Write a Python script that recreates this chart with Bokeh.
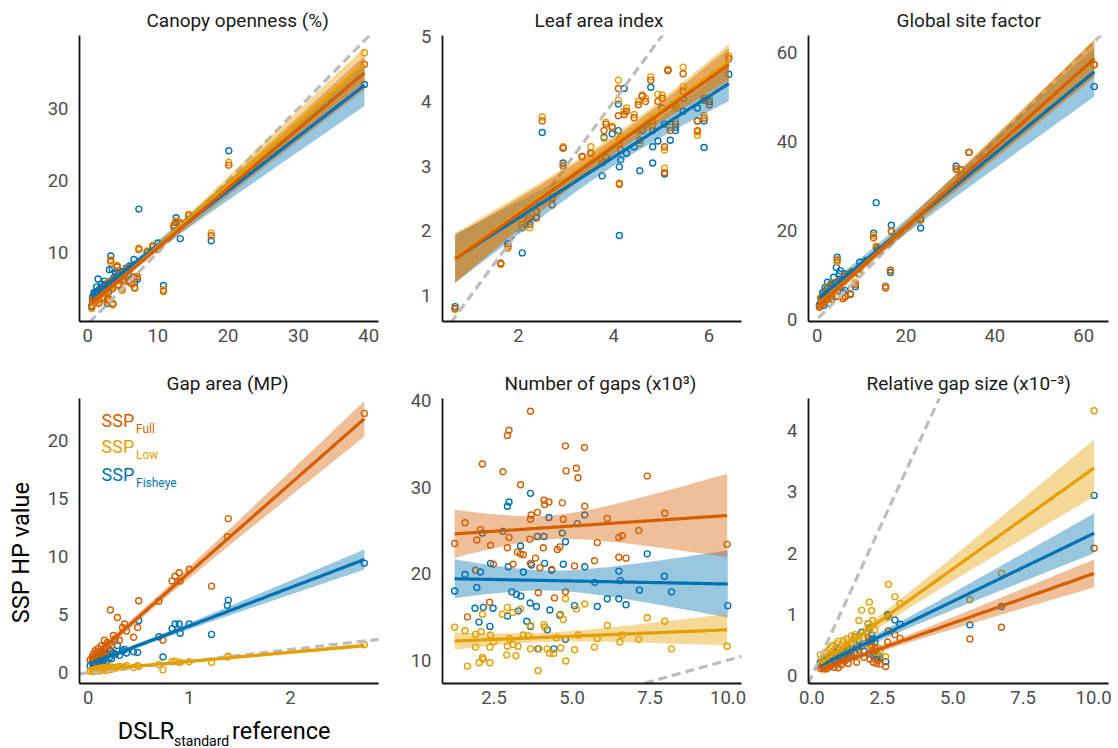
import numpy as np
from bokeh.plotting import figure
from bokeh.layouts import column, row
from bokeh.models import Range1d, FixedTicker, Label, NumeralTickFormatter
from bokeh.core.properties import value
from bokeh.embed import file_html
from bokeh.resources import INLINE

FULL = "#D55E00"
LOW = "#E69F00"
FISH = "#0072B2"

# ---------------- data ----------------
# Canopy openness (%)
canopy_x = [0.6, 0.7, 0.9, 1.0, 1.1, 1.2, 1.3, 1.4, 1.5, 1.6, 1.7, 1.8, 1.9, 2.0, 2.1, 2.2, 2.3, 2.4, 2.5, 2.6,
            2.7, 2.8, 2.9, 3.0, 3.1, 3.2, 3.3, 3.4, 3.5, 3.6, 3.8, 4.0, 4.1, 4.2, 4.4, 4.5, 4.7, 4.9, 5.0, 5.3,
            5.5, 5.9, 6.0, 6.3, 6.6, 6.7, 7.1, 7.3, 8.5, 9.3, 10.0, 10.8, 12.3, 12.6, 13.2, 14.4, 17.6, 20.1,
            39.4]
canopy_full = [2.4, 3.4, 3.2, 3.8, 3.6, 4.0, 3.3, 3.9, 4.0, 2.9, 4.3, 4.2, 4.5, 4.6, 4.4, 3.7, 4.9, 5.2, 4.8, 4.4,
               5.1, 3.4, 5.3, 3.5, 5.8, 5.4, 8.9, 5.7, 4.9, 2.9, 6.0, 6.4, 6.2, 8.0, 5.5, 6.5, 6.6, 4.9, 7.0, 6.0,
               7.4, 6.1, 7.8, 5.6, 6.6, 5.1, 6.6, 10.4, 10.0, 10.8, 10.4, 4.6, 13.8, 14.2, 14.1, 15.1, 12.3, 22.1,
               36.1]
canopy_low = [2.2, 3.3, 3.0, 3.6, 3.4, 3.9, 3.5, 3.8, 3.8, 3.1, 4.2, 4.4, 4.4, 4.3, 4.3, 3.5, 4.8, 5.0, 4.9, 4.6,
              5.0, 3.2, 5.2, 3.7, 6.0, 5.5, 8.6, 5.6, 5.2, 2.7, 6.1, 6.2, 6.3, 8.2, 5.3, 6.6, 6.9, 4.7, 7.1, 6.3,
              7.6, 5.8, 7.9, 5.9, 6.4, 5.0, 6.7, 10.6, 10.2, 11.0, 10.5, 4.8, 13.6, 14.4, 13.9, 15.3, 12.7, 22.5,
              37.7]
canopy_fish = [2.6, 3.8, 4.4, 4.1, 3.9, 4.5, 5.2, 4.6, 6.3, 3.5, 4.9, 4.2, 5.1, 5.6, 5.0, 4.8, 5.3, 6.0, 5.5, 5.1,
               5.4, 2.9, 5.8, 4.5, 7.6, 5.9, 9.5, 6.1, 7.7, 2.8, 6.5, 7.2, 6.7, 8.0, 7.5, 6.9, 7.2, 6.2, 7.3, 7.1,
               7.8, 6.8, 8.1, 6.4, 9.0, 5.8, 6.3, 16.0, 10.1, 10.9, 11.3, 5.4, 13.4, 14.8, 11.9, 14.6, 11.6, 24.1,
               33.3]

# Leaf area index
lai_x = [0.67, 1.63, 1.78, 2.08, 2.19, 2.24, 2.35, 2.38, 2.50, 2.71, 2.94, 2.94, 3.34, 3.52, 3.76, 3.80, 3.84,
         3.97, 4.10, 4.10, 4.12, 4.12, 4.15, 4.22, 4.27, 4.43, 4.52, 4.55, 4.60, 4.67, 4.78, 4.82, 4.82, 4.93,
         5.02, 5.07, 5.07, 5.14, 5.19, 5.30, 5.30, 5.46, 5.46, 5.76, 5.76, 5.90, 5.90, 6.01, 6.42]
lai_full = [0.80, 1.50, 1.76, 2.05, 2.18, 2.10, 2.40, 2.20, 3.70, 2.40, 3.28, 3.00, 3.15, 3.20, 3.05, 3.55, 3.65,
            3.60, 4.20, 3.78, 2.72, 3.35, 3.25, 3.80, 3.85, 3.75, 3.95, 3.40, 4.08, 4.00, 4.33, 3.55, 3.70, 4.00,
            4.05, 2.90, 3.30, 4.48, 3.55, 3.95, 3.65, 4.43, 4.16, 3.70, 3.55, 4.02, 3.74, 3.95, 4.66]
lai_low = [0.79, 1.48, 1.73, 2.10, 2.15, 2.05, 2.42, 2.22, 3.76, 2.52, 3.30, 3.02, 3.15, 3.30, 3.10, 3.43, 3.68,
           3.62, 4.33, 4.02, 2.74, 3.40, 3.45, 3.85, 3.90, 3.80, 4.00, 3.35, 4.10, 4.05, 4.38, 3.63, 3.75, 4.11,
           4.10, 2.97, 3.25, 4.50, 3.60, 3.90, 3.70, 4.53, 4.23, 3.48, 3.53, 4.05, 3.78, 4.05, 4.70]
lai_fish = [0.83, 1.50, 1.80, 1.66, 2.35, 2.20, 2.40, 2.30, 3.52, 2.50, 3.28, 3.05, 3.15, 3.20, 2.85, 3.45, 3.14,
            3.50, 3.96, 3.55, 2.99, 1.93, 3.10, 4.20, 3.20, 3.30, 3.55, 2.93, 3.55, 3.65, 4.22, 3.30, 3.05, 3.39,
            3.90, 2.88, 3.65, 4.48, 3.40, 3.60, 3.55, 3.85, 4.05, 3.90, 3.70, 3.70, 3.29, 4.00, 4.42]

# Global site factor
gsf_x = [0.5, 0.8, 1.0, 1.2, 1.5, 1.8, 2.0, 2.3, 2.6, 3.0, 3.3, 3.7, 4.0, 4.3, 4.5, 5.0, 5.2, 5.8, 6.2, 6.3,
         7.5, 7.8, 8.6, 9.4, 9.6, 11.0, 12.7, 13.3, 13.6, 15.4, 16.5, 16.7, 23.3, 31.3, 32.4, 34.2, 62.4]
gsf_full = [2.8, 4.5, 3.3, 5.0, 3.8, 5.6, 4.4, 7.0, 5.3, 6.1, 4.6, 8.0, 6.9, 5.2, 13.3, 7.4, 8.5, 4.6, 9.6, 5.0,
            5.7, 10.5, 7.8, 10.1, 11.8, 13.0, 18.3, 16.1, 15.4, 7.0, 11.0, 19.7, 22.3, 33.8, 33.6, 37.5, 57.2]
gsf_low = [2.6, 4.8, 3.5, 5.2, 4.0, 5.9, 4.2, 7.3, 5.1, 6.5, 4.4, 8.2, 7.1, 5.0, 12.9, 7.8, 8.7, 5.0, 9.9, 5.0,
           5.7, 10.7, 8.2, 10.4, 11.5, 12.7, 18.8, 16.4, 15.8, 7.3, 11.0, 19.8, 22.6, 33.6, 33.6, 37.5, 57.3]
gsf_fish = [3.2, 3.6, 4.7, 5.9, 3.1, 7.1, 6.3, 8.3, 3.6, 7.8, 5.2, 9.4, 7.9, 11.6, 13.9, 10.2, 10.9, 6.0, 10.2, 6.4,
            5.5, 10.4, 7.3, 11.4, 12.8, 13.2, 19.3, 26.2, 15.6, 7.4, 10.5, 21.1, 20.5, 34.4, 32.3, 37.5, 52.3]

# Gap area (MP)
gap_x = [0.02, 0.04, 0.05, 0.06, 0.07, 0.08, 0.09, 0.10, 0.11, 0.12, 0.13, 0.14, 0.15, 0.16, 0.17, 0.18, 0.19,
         0.21, 0.22, 0.23, 0.25, 0.27, 0.29, 0.31, 0.34, 0.36, 0.38, 0.45, 0.49, 0.50, 0.70, 0.74, 0.83, 0.86,
         0.90, 0.91, 1.00, 1.22, 1.376, 1.386, 2.73]
gap_full = [1.1, 1.3, 1.6, 1.0, 1.9, 1.7, 1.2, 2.1, 1.5, 1.4, 2.3, 1.9, 1.6, 2.8, 2.2, 1.8, 2.6,
            2.5, 5.4, 2.3, 3.2, 2.9, 4.75, 2.8, 3.9, 4.2, 3.6, 3.05, 3.9, 6.2, 6.15, 2.8, 7.9, 8.3,
            8.6, 7.9, 8.9, 7.45, 11.7, 13.25, 22.3]
gap_low = [0.15, 0.2, 0.1, 0.25, 0.3, 0.2, 0.35, 0.3, 0.15, 0.4, 0.35, 0.25, 0.45, 0.3, 0.4, 0.2, 0.5,
           0.35, 0.5, 0.3, 0.45, 0.4, 0.5, 0.55, 0.45, 0.5, 0.6, 0.45, 0.6, 0.55, 0.7, 0.25, 0.95, 1.0,
           0.9, 0.9, 0.95, 0.9, 1.35, 1.43, 2.41]
gap_fish = [0.6, 0.9, 0.7, 0.5, 1.0, 1.1, 0.8, 1.2, 0.9, 1.0, 1.4, 1.1, 0.8, 1.5, 1.2, 1.0, 1.6,
            1.3, 1.9, 1.2, 1.7, 1.6, 2.35, 1.5, 1.9, 2.0, 1.7, 1.8, 1.75, 4.5, 3.1, 1.36, 3.8, 4.2,
            4.2, 3.4, 4.2, 3.3, 5.8, 6.25, 9.43]

# Number of gaps (x10^3)
ngaps_full_x = [3.67, 2.98, 2.93, 2.13, 4.79, 5.40, 2.79, 4.81, 5.14, 5.19, 7.41, 3.35, 4.10, 4.26, 4.12, 4.69,
                5.41, 3.69, 3.67, 3.89, 1.57, 2.07, 4.72, 7.97, 6.13, 1.95, 2.39, 2.98, 1.24, 3.65, 5.81, 6.50,
                6.61, 7.14, 9.97, 2.93, 3.25, 3.44, 3.35, 2.48, 4.08, 4.53, 4.61, 3.83, 1.91, 3.11, 3.67, 4.35,
                5.08, 5.72, 6.50, 6.73, 3.97, 2.36, 1.65, 3.92, 4.44, 4.79]
ngaps_full = [38.8, 36.6, 36.0, 32.7, 34.8, 34.6, 31.8, 31.9, 32.2, 31.1, 31.3, 30.3, 28.5, 28.3, 28.0, 28.2,
              27.8, 26.8, 26.3, 27.1, 25.9, 25.1, 26.3, 27.0, 26.4, 23.9, 23.3, 24.2, 23.5, 24.0, 23.6, 24.2,
              24.4, 25.0, 23.4, 23.0, 22.5, 22.2, 22.3, 21.1, 23.0, 22.8, 23.1, 21.8, 20.4, 21.1, 21.2, 20.5,
              20.9, 21.5, 21.9, 21.8, 20.7, 16.7, 15.0, 17.8, 17.2, 17.9]
ngaps_low_x = [1.24, 1.57, 1.91, 2.09, 2.39, 3.44, 3.67, 4.10, 4.13, 4.63, 4.72, 4.79, 5.14, 5.41, 7.41, 7.97,
               2.93, 2.77, 3.35, 3.09, 2.13, 1.91, 2.37, 2.48, 2.93, 3.12, 3.27, 2.91, 3.20, 3.67, 3.94, 4.20,
               4.28, 4.41, 4.64, 5.08, 5.72, 6.53, 7.14, 8.19, 9.97, 1.65, 2.02, 2.13, 2.16, 2.37, 3.91, 4.80,
               6.13, 5.81, 6.61, 4.50, 5.20, 3.00, 3.60]
ngaps_low = [13.8, 13.4, 13.0, 13.3, 12.9, 12.9, 14.0, 14.1, 13.8, 15.3, 14.7, 17.1, 15.9, 16.5, 14.9, 14.5,
             16.1, 15.3, 15.9, 15.5, 15.3, 11.5, 11.5, 12.1, 11.6, 11.8, 11.6, 10.6, 10.5, 11.3, 11.3, 11.3,
             10.8, 10.8, 11.4, 11.2, 11.5, 12.1, 12.4, 11.3, 11.6, 9.3, 9.7, 10.3, 10.1, 9.7, 8.8, 9.9,
             14.0, 12.5, 12.9, 12.6, 12.9, 12.5, 12.8]
ngaps_fish_x = [3.67, 2.98, 2.93, 4.26, 5.41, 5.17, 2.13, 2.79, 4.69, 3.89, 4.10, 3.35, 4.79, 2.39, 1.57, 2.07,
                2.96, 3.70, 4.12, 3.44, 4.35, 4.72, 5.41, 7.41, 1.24, 1.95, 6.50, 6.55, 7.96, 5.73, 7.16, 8.19,
                9.99, 1.89, 2.16, 2.47, 2.02, 2.37, 2.93, 3.28, 3.07, 3.22, 3.36, 3.66, 3.86, 4.29, 4.61, 5.08,
                5.81, 6.13, 6.50, 6.73, 3.55, 3.67, 4.21, 4.79, 3.91, 4.42]
ngaps_fish = [29.3, 28.3, 27.8, 26.5, 26.8, 25.8, 24.7, 24.9, 24.7, 24.3, 24.3, 23.2, 23.7, 21.2, 19.9, 20.2,
              20.8, 21.0, 21.2, 20.2, 20.4, 21.1, 20.8, 22.3, 18.0, 18.4, 20.3, 19.2, 19.7, 19.0, 18.1, 17.9,
              16.3, 16.0, 16.1, 16.0, 14.4, 13.9, 15.1, 15.7, 17.9, 17.6, 17.4, 16.6, 16.2, 15.8, 15.2, 16.3,
              16.2, 17.1, 17.1, 16.4, 14.5, 13.9, 13.5, 12.4, 11.3, 11.3]

# Relative gap size (x10^-3)
rel_x = [0.30, 0.35, 0.40, 0.45, 0.50, 0.58, 0.65, 0.72, 0.80, 0.88, 0.94, 1.00, 1.05, 1.11, 1.17, 1.23, 1.29,
         1.35, 1.41, 1.53, 1.59, 1.67, 1.77, 1.85, 2.00, 2.04, 2.06, 2.12, 2.16, 2.18, 2.24, 2.30, 2.36, 2.42,
         2.62, 2.69, 2.72, 2.95, 3.13, 5.61, 6.73, 10.02]
rel_full = [0.12, 0.15, 0.13, 0.18, 0.11, 0.13, 0.16, 0.20, 0.14, 0.22, 0.13, 0.25, 0.18, 0.28, 0.24, 0.30, 0.20,
            0.32, 0.35, 0.38, 0.22, 0.42, 0.48, 0.30, 0.63, 0.55, 0.27, 0.50, 0.40, 0.22, 0.46, 0.20, 0.25, 0.19,
            0.15, 0.55, 0.73, 0.67, 0.61, 0.60, 0.79, 2.08]
rel_low = [0.34, 0.22, 0.28, 0.30, 0.38, 0.41, 0.45, 0.49, 0.35, 0.52, 0.56, 0.42, 0.36, 0.57, 0.45, 0.60, 0.49,
           0.40, 0.65, 0.67, 0.55, 0.90, 1.07, 0.62, 0.85, 1.20, 0.48, 1.06, 0.90, 0.42, 0.75, 0.38, 0.45, 0.40,
           0.31, 0.95, 1.49, 1.29, 1.18, 1.24, 1.67, 4.32]
rel_fish = [0.22, 0.18, 0.24, 0.20, 0.26, 0.30, 0.28, 0.33, 0.25, 0.38, 0.44, 0.30, 0.27, 0.40, 0.45, 0.42, 0.35,
            0.31, 0.52, 0.63, 0.46, 0.58, 0.71, 0.40, 0.85, 0.78, 0.36, 0.66, 0.60, 0.33, 0.55, 0.29, 0.33, 0.30,
            0.23, 1.00, 0.98, 0.91, 0.84, 0.83, 1.13, 2.94]

# axis ticks
canopy_xticks, canopy_yticks = [0, 10, 20, 30, 40], [10, 20, 30]
lai_xticks, lai_yticks = [2, 4, 6], [1, 2, 3, 4, 5]
gsf_xticks, gsf_yticks = [0, 20, 40, 60], [0, 20, 40, 60]
gap_xticks, gap_yticks = [0, 1, 2], [0, 5, 10, 15, 20]
ngaps_xticks, ngaps_yticks = [2.5, 5.0, 7.5, 10.0], [10, 20, 30, 40]
rel_xticks, rel_yticks = [0.0, 2.5, 5.0, 7.5, 10.0], [0, 1, 2, 3, 4]

# ---------------- page geometry (pixels) ----------------
COL_X0 = [0, 390, 757]
COL_W = [390, 367, 361]
PAD_L = [79, 52, 51]
PAD_R = [12, 16, 10]
ROW_Y0 = [0, 360]
ROW_H = [360, 388]
PAD_T = [35, 38]
PAD_B = [39, 65]
YLAB_W = 36          # strip left of the gap-area panel holding the y title
XLAB_H = 35          # strip under the gap-area panel holding the x title
BASE_SHIFT = 0.34    # rendered alphabetic baseline sits this many em below the anchor

FONT = "Roboto"


def frame_box(c, r):
    left = COL_X0[c] + PAD_L[c]
    top = ROW_Y0[r] + PAD_T[r]
    w = COL_W[c] - PAD_L[c] - PAD_R[c]
    h = ROW_H[r] - PAD_T[r] - PAD_B[r]
    return left, top, w, h


def page_to_data(c, r, xr, yr, px, py):
    left, top, w, h = frame_box(c, r)
    x = xr[0] + (px - left) / w * (xr[1] - xr[0])
    y = yr[1] - (py - top) / h * (yr[1] - yr[0])
    return x, y


def fit_band(x, y, n_pts=100):
    """Least-squares line with its 95% confidence band."""
    x = np.asarray(x, float)
    y = np.asarray(y, float)
    n = len(x)
    b1, b0 = np.polyfit(x, y, 1)
    resid = y - (b0 + b1 * x)
    s = np.sqrt(np.sum(resid ** 2) / (n - 2))
    xbar = x.mean()
    sxx = np.sum((x - xbar) ** 2)
    xs = np.linspace(x.min(), x.max(), n_pts)
    yhat = b0 + b1 * xs
    tq = 1.96 + 2.4 / (n - 2)
    half = tq * s * np.sqrt(1.0 / n + (xs - xbar) ** 2 / sxx)
    return xs, yhat, yhat - half, yhat + half


def make_panel(c, r, title, title_left, xr, yr, xticks, yticks, xfmt=None,
               width=None, height=None, pad_l=None, pad_b=None):
    p = figure(width=width or COL_W[c], height=height or ROW_H[r],
               x_range=Range1d(*xr), y_range=Range1d(*yr),
               output_backend="svg", toolbar_location=None, title=title,
               min_border_left=pad_l if pad_l is not None else PAD_L[c], min_border_right=PAD_R[c],
               min_border_top=PAD_T[r], min_border_bottom=pad_b if pad_b is not None else PAD_B[r])
    p.outline_line_color = None
    p.grid.visible = False
    p.title.align = "left"
    p.title.offset = title_left - (COL_X0[c] + PAD_L[c])
    p.title.text_font = FONT
    p.title.text_font_size = "19px"
    p.title.text_font_style = "normal"
    p.title.text_color = "#1a1a1a"
    p.title.standoff = 7
    for ax, ticks in ((p.xaxis[0], xticks), (p.yaxis[0], yticks)):
        ax.ticker = FixedTicker(ticks=ticks)
        ax.axis_line_color = "#111111"
        ax.axis_line_width = 1.8
        ax.major_tick_line_color = None
        ax.minor_tick_line_color = None
        ax.major_tick_out = 0
        ax.major_tick_in = 0
        ax.major_label_text_font = FONT
        ax.major_label_text_font_size = "18.5px"
        ax.major_label_text_color = "#4d4d4d"
    p.xaxis.major_label_standoff = 7
    p.yaxis.major_label_standoff = 11
    if xfmt:
        p.xaxis.formatter = NumeralTickFormatter(format=xfmt)
    return p


def draw_series(p, xr, yr, series):
    # open circles
    for x, y, col in series:
        p.scatter(x, y, marker="circle", size=6, fill_color=None, line_color=col, line_width=1.4)
    # 1:1 reference line, clipped by the frame
    lo = min(xr[0], yr[0])
    hi = max(xr[1], yr[1])
    p.line([lo, hi], [lo, hi], line_color="#bdbdbd", line_width=3.2, line_dash="9 5")
    # linear fits: confidence ribbons first, fitted lines on top
    fits = [(fit_band(x, y), col) for x, y, col in series]
    for (xs, yhat, ylo, yhi), col in fits:
        p.varea(x=xs, y1=ylo, y2=yhi, fill_color=col, fill_alpha=0.4)
    for (xs, yhat, ylo, yhi), col in fits:
        p.line(xs, yhat, line_color=col, line_width=3.2)


def text_strip(width, height):
    s = figure(width=width, height=height, x_range=Range1d(0, width), y_range=Range1d(0, height),
               output_backend="svg", toolbar_location=None, x_axis_type=None, y_axis_type=None,
               title=None, min_border=0, min_border_left=0, min_border_right=0,
               min_border_top=0, min_border_bottom=0)
    s.outline_line_color = None
    s.grid.visible = False
    return s


# ---------------- panels ----------------
r1 = dict(canopy=((-1.15, 41.4), (0.4, 40.1)),
          lai=((0.405, 6.686), (0.60, 5.02)),
          gsf=((-1.96, 65.6), (-0.54, 63.8)))
r2 = dict(gap=((-0.085, 2.87), (-0.92, 23.58)),
          ngaps=((0.85, 10.43), (7.29, 40.28)),
          rel=((-0.12, 10.53), (-0.126, 4.52)))

p1 = make_panel(0, 0, "Canopy openness (%)", 146, *r1["canopy"], canopy_xticks, canopy_yticks)
draw_series(p1, *r1["canopy"], [(canopy_x, canopy_fish, FISH), (canopy_x, canopy_low, LOW),
                                (canopy_x, canopy_full, FULL)])

p2 = make_panel(1, 0, "Leaf area index", 534, *r1["lai"], lai_xticks, lai_yticks)
draw_series(p2, *r1["lai"], [(lai_x, lai_fish, FISH), (lai_x, lai_low, LOW), (lai_x, lai_full, FULL)])

p3 = make_panel(2, 0, "Global site factor", 896, *r1["gsf"], gsf_xticks, gsf_yticks)
draw_series(p3, *r1["gsf"], [(gsf_x, gsf_fish, FISH), (gsf_x, gsf_low, LOW), (gsf_x, gsf_full, FULL)])

gap_h = ROW_H[1] - XLAB_H
p4 = make_panel(0, 1, "Gap area (MP)", 166, *r2["gap"], gap_xticks, gap_yticks,
                width=COL_W[0] - YLAB_W, height=gap_h, pad_l=PAD_L[0] - YLAB_W, pad_b=PAD_B[1] - XLAB_H)
draw_series(p4, *r2["gap"], [(gap_x, gap_fish, FISH), (gap_x, gap_low, LOW), (gap_x, gap_full, FULL)])

p5 = make_panel(1, 1, "Number of gaps (x10\u00b3)", 504, *r2["ngaps"], ngaps_xticks, ngaps_yticks,
                xfmt="0.0")
draw_series(p5, *r2["ngaps"], [(ngaps_fish_x, ngaps_fish, FISH), (ngaps_low_x, ngaps_low, LOW),
                               (ngaps_full_x, ngaps_full, FULL)])

p6 = make_panel(2, 1, "Relative gap size (x10\u207b\u00b3)", 866, *r2["rel"], rel_xticks, rel_yticks,
                xfmt="0.0")
draw_series(p6, *r2["rel"], [(rel_x, rel_fish, FISH), (rel_x, rel_low, LOW), (rel_x, rel_full, FULL)])

# legend inside the gap-area panel (page baselines of each row)
gx, gy = r2["gap"]
legend_rows = [("Full", FULL, 425.7), ("Low", LOW, 452.3), ("Fisheye", FISH, 480.0)]
for sub, col, base in legend_rows:
    lx, ly = page_to_data(0, 1, gx, gy, 101, base - BASE_SHIFT * 18)
    p4.add_layout(Label(x=lx, y=ly, text="SSP", text_align="left", text_baseline="alphabetic",
                        text_font=FONT, text_font_size="18px", text_color=col))
    sx, sy = page_to_data(0, 1, gx, gy, 135.5, base + 6.7 - BASE_SHIFT * 12)
    p4.add_layout(Label(x=sx, y=sy, text=sub, text_align="left", text_baseline="alphabetic",
                        text_font=FONT, text_font_size="12px", text_color=col))

# y title strip (rotated text, baseline at page x=28, centred at page y=551)
ylab = text_strip(YLAB_W, gap_h)
ylab.text(x=[28 - BASE_SHIFT * 23.5], y=[gap_h - (551 - ROW_Y0[1])], text=["SSP HP value"], angle=np.pi / 2,
          text_align="center", text_baseline="alphabetic", text_font=value(FONT),
          text_font_size=value("23.5px"), text_color="#000000")

# x title strip: DSLR with subscript "standard", then "reference"
xlab = text_strip(COL_W[0], XLAB_H)
strip_bottom = ROW_Y0[1] + ROW_H[1]
xlab.text(x=[117.3, 231.5], y=[strip_bottom - (738.3 - BASE_SHIFT * 23.5)] * 2, text=["DSLR", "reference"],
          text_align="left", text_baseline="alphabetic", text_font=value(FONT),
          text_font_size=value("23.5px"), text_color="#000000")
xlab.text(x=[173.5], y=[strip_bottom - (745.0 - BASE_SHIFT * 14)], text=["standard"],
          text_align="left", text_baseline="alphabetic", text_font=value(FONT),
          text_font_size=value("14px"), text_color="#000000")

left_block = column(row(ylab, p4), xlab)
layout = column(row(p1, p2, p3), row(left_block, p5, p6))
open("out.html", "w").write(file_html(layout, INLINE))
